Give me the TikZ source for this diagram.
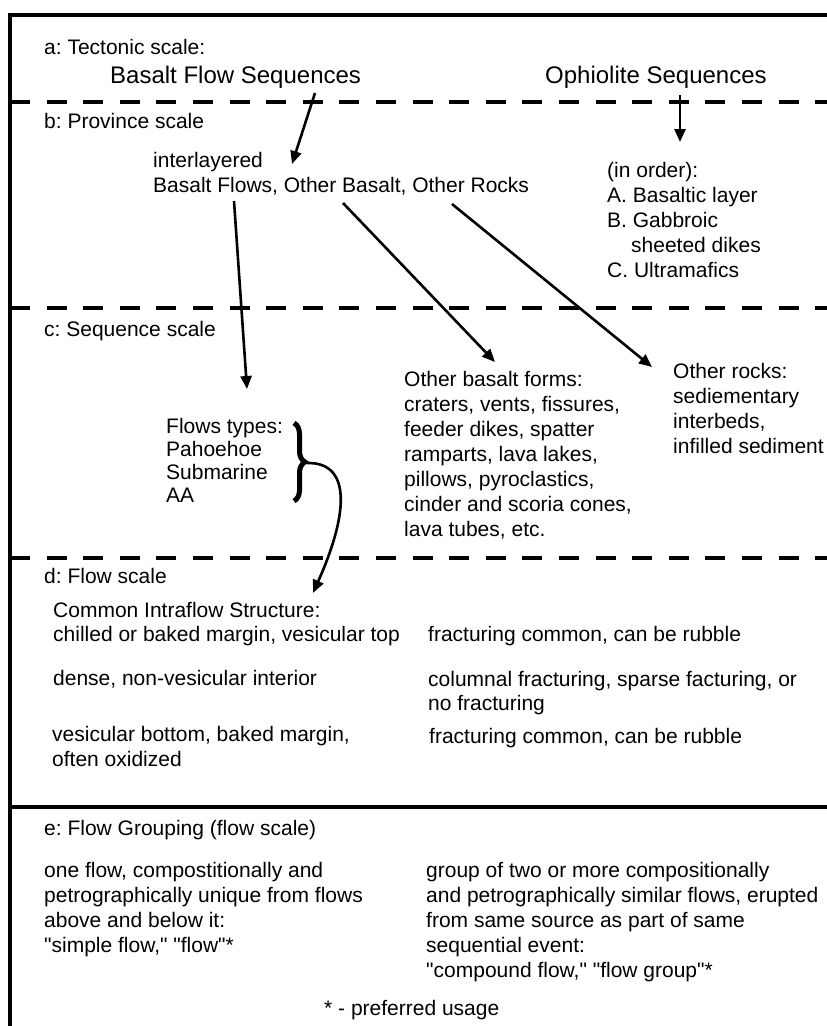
\documentclass[tikz,border=0pt]{standalone}
\usepackage{fontspec}
\setmainfont{Liberation Sans}[Ligatures=TeXOff]
\usetikzlibrary{arrows.meta,calc,decorations.pathreplacing}
\newcommand\mlines[1]{\vtop{\halign{##\hfil\cr#1\crcr}}}
\frenchspacing
\begin{document}
\begin{tikzpicture}[x=1pt,y=-1pt,
  txt/.style={anchor=base west, inner sep=0pt, font=\fontsize{21}{25}\selectfont},
  txtd/.style={txt, font=\fontsize{21}{24}\selectfont},
  txtt/.style={txt, font=\fontsize{21}{23}\selectfont},
  big/.style={txt, font=\fontsize{24}{28}\selectfont},
  arr/.style={line width=2.6pt, -{Triangle[length=13pt,width=11pt]}},
  frame/.style={line width=4pt},
  sep/.style={line width=3.4pt, dash pattern=on 20pt off 16.6pt}]
\useasboundingbox (0,0) rectangle (827,1026);
\fill[white] (0,0) rectangle (827,1026);
% frame and separators
\draw[frame, line join=miter] (10,1030) -- (10,15) -- (830,15);
\draw[sep] (10,102) -- (830,102);
\draw[sep] (10,308) -- (830,308);
\draw[sep] (10,558) -- (830,558);
\draw[frame] (10,807) -- (830,807);
% a
\node[txt] (la) at (44,54) {a: Tectonic scale:};
\node[big] (bfs) at (110,83) {Basalt Flow Sequences};
\node[big] (oph) at (545,83) {Ophiolite Sequences};
% b
\node[txt] (lb) at (44,128) {b: Province scale};
\node[txt] (prov) at (153,167) {\mlines{interlayered\cr Basalt Flows, Other Basalt, Other Rocks}};
\node[txt] (order) at (607,177) {\mlines{(in order):\cr A. Basaltic layer\cr B. Gabbroic\cr\hspace*{24pt}sheeted dikes\cr C. Ultramafics}};
% c
\node[txt] (lc) at (44,336) {c: Sequence scale};
\node[txtt] (ftypes) at (166,433) {\mlines{Flows types:\cr Pahoehoe\cr Submarine\cr AA}};
\node[txt] (obf) at (404,386) {\mlines{Other basalt forms:\cr craters, vents, fissures,\cr feeder dikes, spatter\cr ramparts, lava lakes,\cr pillows, pyroclastics,\cr cinder and scoria cones,\cr lava tubes, etc.}};
\node[txt] (orock) at (673,378) {\mlines{Other rocks:\cr sediementary\cr interbeds,\cr infilled sediment}};
% d
\node[txt] (ld) at (44,583) {d: Flow scale};
\node[txtd] (cis) at (53,617) {\mlines{Common Intraflow Structure:\cr chilled or baked margin, vesicular top}};
\node[txt] (dense) at (53,685) {dense, non-vesicular interior};
\node[txt] (vesb) at (52,741) {\mlines{vesicular bottom, baked margin,\cr often oxidized}};
\node[txt] (frac1) at (428,641) {fracturing common, can be rubble};
\node[txtd] (col) at (428,686) {\mlines{columnal fracturing, sparse facturing, or\cr no fracturing}};
\node[txt] (frac2) at (429,743) {fracturing common, can be rubble};
% e
\node[txt] (le) at (44,835) {e: Flow Grouping (flow scale)};
\node[txt] (one) at (44,877) {\mlines{one flow, compostitionally and\cr petrographically unique from flows\cr above and below it:\cr "simple flow," "flow"*}};
\node[txt] (group) at (426,877) {\mlines{group of two or more compositionally\cr and petrographically similar flows, erupted\cr from same source as part of same\cr sequential event:\cr "compound flow," "flow group"*}};
\node[txt] (pref) at (324,1015) {* - preferred usage};
% connectors
\draw[arr] ($(bfs.base west)+(205,10)$) -- ($(prov.base west)+(139,-3)$);
\draw[arr] ($(oph.base west)+(135,12)$) -- ($(order.base west)+(73,-35)$);
\draw[arr] ($(prov.base west)+(81,34)$) -- ($(ftypes.base west)+(81,-44)$);
\draw[arr] ($(prov.base west)+(190,36)$) -- ($(obf.base west)+(91,-24)$);
\draw[arr] ($(prov.base west)+(299,37)$) -- ($(orock.base west)+(-21,-11)$);
% brace
\draw[line width=5pt, decorate, decoration={brace, amplitude=11pt}]
  ($(ftypes.base west)+(128,-10)$) -- ($(ftypes.base west)+(128,68)$);
\coordinate (btip) at ($(ftypes.base west)+(141,30)$);
\coordinate (cist) at ($(cis.base west)+(260,-24)$);
\draw[arr] (btip) .. controls +(43,-1) and +(37,-83) .. (cist);
\end{tikzpicture}
\end{document}
